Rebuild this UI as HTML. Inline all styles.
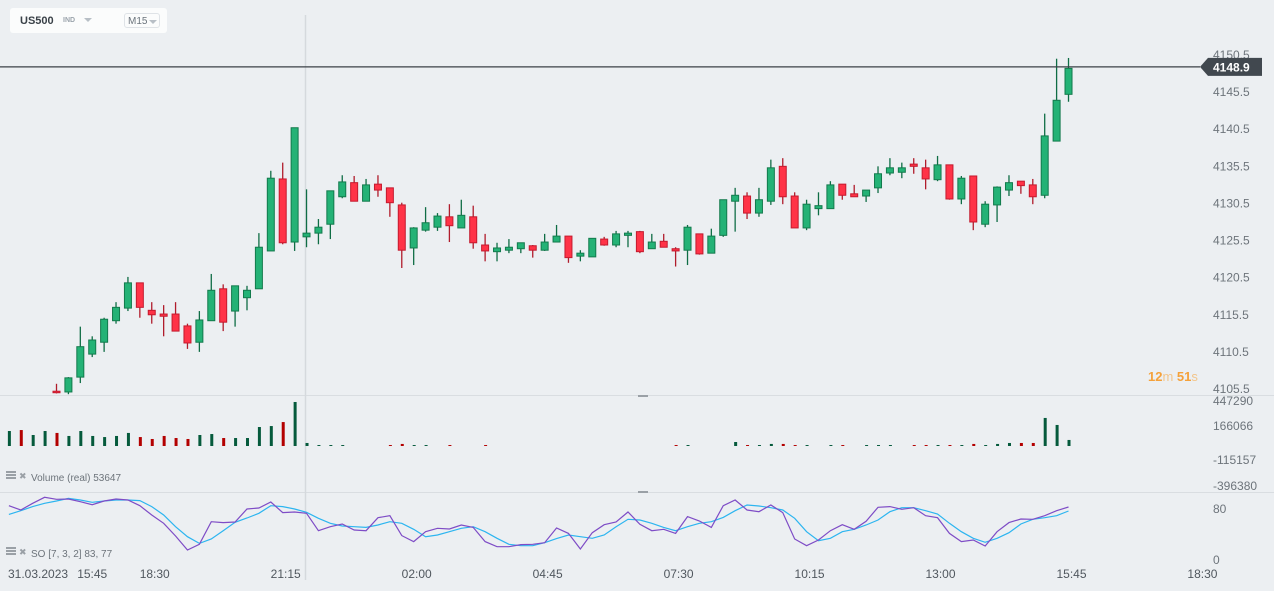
<!DOCTYPE html>
<html><head><meta charset="utf-8">
<style>
html,body{margin:0;padding:0;background:#eceff2;width:1274px;height:591px;overflow:hidden;font-family:"Liberation Sans",Arial,sans-serif;}
#hdr{position:absolute;left:10px;top:8px;width:157px;height:25px;background:#fbfcfc;border-radius:3px;}
#hdr .sym{position:absolute;left:10px;top:7px;font-size:11px;font-weight:bold;color:#3a4148;}
#hdr .ind{position:absolute;left:53px;top:9px;font-size:7px;font-weight:bold;color:#9aa3ab;}
#hdr .tri{position:absolute;left:74px;top:10px;width:0;height:0;border-left:4px solid transparent;border-right:4px solid transparent;border-top:4px solid #b8bfc6;}
#hdr .tf{position:absolute;left:114px;top:5px;width:36px;height:15px;border:1px solid #dfe3e7;border-radius:3px;font-size:10px;color:#6b747c;line-height:15px;padding-left:3px;box-sizing:border-box;white-space:nowrap;overflow:hidden;}
#hdr .tf i{position:absolute;left:24px;top:6px;width:0;height:0;border-left:4px solid transparent;border-right:4px solid transparent;border-top:4px solid #b8bfc6;}
svg{position:absolute;left:0;top:0;}
</style></head>
<body>
<div id="hdr">
  <span class="sym">US500</span>
  <span class="ind">IND</span>
  <span class="tri"></span>
  <span class="tf">M15<i></i></span>
</div>
<svg id="chart" width="1274" height="591" xmlns="http://www.w3.org/2000/svg"></svg>
<script>
// ---- data (index -4 .. 85) ----
const opens  = [4100,4102,4099,4100, 4105.2,4105.1,4107.1,4110.2,4111.8,4114.7,4116.4,4119.8,4116.1,4115.6,4115.6,4114.0,4111.8,4114.7,4119.0,4116.0,4117.8,4119.0,4124.1,4133.8,4125.3,4126.0,4126.5,4127.7,4131.4,4133.3,4130.8,4133.1,4132.6,4130.3,4124.5,4126.9,4127.3,4128.7,4127.2,4128.7,4124.9,4124.0,4124.2,4124.4,4124.8,4124.2,4125.3,4126.1,4123.4,4123.3,4125.7,4124.9,4126.2,4126.7,4124.4,4125.4,4124.4,4124.2,4126.4,4123.8,4126.2,4130.8,4131.5,4129.2,4130.8,4135.5,4131.5,4127.2,4129.8,4129.8,4133.1,4131.8,4131.5,4132.6,4134.6,4134.7,4135.8,4135.3,4133.7,4135.7,4131.1,4134.2,4127.7,4130.3,4132.3,4133.5,4133.0,4131.6,4138.9,4145.2];
const closes = [4101,4099,4100,4104, 4105.0,4107.0,4111.2,4112.1,4114.9,4116.5,4119.8,4116.5,4115.5,4115.3,4113.3,4111.7,4114.8,4118.8,4114.5,4119.4,4118.8,4124.6,4133.9,4125.2,4140.7,4126.5,4127.3,4132.2,4133.4,4130.8,4133.0,4132.3,4130.6,4124.2,4127.2,4127.9,4128.8,4127.5,4128.9,4125.2,4124.1,4124.5,4124.6,4125.2,4124.2,4125.3,4126.1,4123.2,4123.8,4125.8,4124.9,4126.4,4126.5,4124.0,4125.3,4124.6,4124.1,4127.3,4123.7,4126.1,4131.0,4131.6,4129.2,4131.0,4135.3,4131.4,4127.2,4130.4,4130.2,4133.0,4131.6,4131.4,4132.3,4134.5,4135.3,4135.3,4135.5,4133.8,4135.7,4131.1,4133.9,4128.0,4130.4,4132.7,4133.3,4132.9,4131.4,4139.6,4144.4,4148.7];
const highs  = [4101.5,4102.5,4100.5,4104.5, 4106.2,4107.1,4113.9,4112.6,4115.1,4117.2,4120.6,4119.8,4117.2,4116.8,4117.2,4114.3,4116.0,4121.0,4119.6,4119.4,4119.4,4126.5,4134.9,4136.0,4140.7,4132.4,4128.4,4132.2,4134.3,4134.2,4133.8,4134.3,4132.6,4130.6,4127.3,4130.0,4129.2,4130.4,4131.0,4130.2,4126.4,4125.2,4125.7,4125.2,4124.9,4126.4,4127.6,4126.1,4124.2,4125.8,4126.0,4126.8,4126.8,4126.8,4126.4,4126.4,4124.6,4127.6,4126.4,4127.1,4131.0,4132.6,4132.0,4132.6,4136.4,4136.6,4132.0,4131.0,4132.0,4133.5,4133.1,4133.0,4132.3,4135.5,4136.6,4136.0,4136.6,4136.4,4136.9,4135.7,4134.2,4134.2,4130.8,4132.8,4134.3,4133.5,4133.8,4142.6,4150.0,4150.1];
const lows   = [4099.5,4098.5,4098.5,4099.5, 4104.9,4104.8,4106.3,4109.8,4110.5,4114.3,4116.0,4115.1,4114.3,4112.6,4113.3,4110.9,4110.5,4114.7,4113.3,4113.9,4116.1,4119.0,4124.1,4125.0,4124.1,4124.6,4125.0,4125.7,4131.2,4130.8,4130.8,4131.4,4128.7,4121.8,4122.2,4126.7,4126.8,4125.3,4127.2,4124.4,4122.7,4122.7,4123.8,4123.8,4123.2,4124.1,4125.3,4122.5,4122.7,4123.3,4124.8,4124.6,4124.6,4123.8,4124.4,4124.6,4122.0,4122.2,4123.6,4123.8,4126.0,4126.7,4128.4,4128.7,4130.3,4130.4,4127.2,4126.9,4128.9,4129.8,4131.0,4131.4,4130.7,4131.9,4134.3,4133.9,4134.5,4132.4,4133.5,4131.0,4130.4,4126.9,4127.3,4128.0,4131.5,4131.8,4130.4,4131.2,4138.9,4144.2];
const volumes = [124000,132000,91000,124000, 108000,83000,124000,83000,74000,83000,108000,74000,58000,83000,66000,58000,91000,99000,66000,66000,66000,157000,165000,198000,364000,25000,8000,8000,8000,0,0,0,8000,17000,8000,8000,0,8000,0,0,8000,0,0,0,0,0,0,0,0,0,0,0,0,0,0,0,8000,8000,0,0,0,33000,8000,8000,17000,17000,8000,8000,0,8000,8000,0,8000,8000,8000,0,8000,8000,8000,8000,8000,17000,8000,17000,25000,25000,25000,232000,174000,50000];
const soK = [85.2,78.4,88.9,98.3, 95.2,95.7,91.5,86.8,92.6,95.7,94.1,85.2,70.6,57.5,37.6,15.7,24.6,60.1,58.6,59.6,80,81.6,91,74.3,75.3,73.2,46,52.3,56.5,47.1,46,66.4,69.5,38.2,28.8,44.4,49.7,48.6,54.9,51.2,28.8,20.9,20.9,24.1,24.6,27.2,50.2,41.8,17.3,42.9,55.4,59.6,75.3,56,46,48.1,41.8,68,61.2,51.2,85.2,94.1,78.4,75.8,86.3,74.3,32.9,22.5,31.4,46,55.4,48.1,60.7,82.6,83.7,79.5,82.1,69.5,66.4,41.8,28.8,31.4,22,44.4,58.6,64.3,63.8,69.5,77.4,83.1];
const soD = [71.6,77.4,83.7,88.9, 92.6,96.7,94.1,90.5,92.6,94.1,94.1,93.1,83.7,70.6,52.3,36.6,26.1,32.9,46,59.1,65.9,73.2,85.2,83.7,80,74.8,65.4,57.5,53.3,52.3,51.2,54.9,60.1,57.5,48.1,36.6,39.2,44.4,49.7,52.3,44.4,34,24.6,22.5,22.5,27.2,33.5,39.2,36.6,34,39.2,52.3,63.8,62.7,57.5,51.2,46,52.3,57.5,60.1,66.9,77.4,86.3,84.7,82.1,78.4,65.4,44.4,30.3,34,44.4,48.1,54.9,62.7,75.8,82.1,82.1,77.4,72.2,57.5,44.4,34,27.7,34,42.9,56.5,63.8,66.4,69.5,76.9];
const priceTicks = [4150.5,4145.5,4140.5,4135.5,4130.5,4125.5,4120.5,4115.5,4110.5,4105.5];
const volTicks = [447290,166066,-115157,-396380];
const soTicks = [80,0];
const timeLabels = ["15:45","18:30","21:15","02:00","04:45","07:30","10:15","13:00","15:45","18:30"];
const timeIdx = [3,8.25,19.25,30.25,41.25,52.25,63.25,74.25,85.25,96.25];
const lastPrice = 4148.9;

const NS="http://www.w3.org/2000/svg";
const svg=document.getElementById('chart');
function el(tag,attrs,parent){const e=document.createElementNS(NS,tag);for(const k in attrs)e.setAttribute(k,attrs[k]);(parent||svg).appendChild(e);return e;}
function txt(s,attrs,parent){const e=el('text',attrs,parent);e.textContent=s;return e;}
const OFF=4;
const xOf=i=>56.5+(i-OFF)*11.906;
const yP=p=>55+(4150.5-p)*7.422;
const yV=v=>446-v/8271;
const yS=v=>560-v*0.6375;

const defs=el('defs',{});
const cp=el('clipPath',{id:'pc'},defs); el('rect',{x:0,y:0,width:1200,height:395},cp);

let s;
s=el('line',{x1:0,y1:395.5,x2:1274,y2:395.5,stroke:'#d9dde1','stroke-width':1});

s=el('line',{x1:0,y1:492.5,x2:1274,y2:492.5,stroke:'#d9dde1','stroke-width':1});

el('rect',{x:638,y:395,width:10,height:2,fill:'#9aa0a6'});
el('rect',{x:638,y:491,width:10,height:2,fill:'#9aa0a6'});
s=el('line',{x1:305.5,y1:15,x2:305.5,y2:580,stroke:'#d5d9dd','stroke-width':1.5});


const pa=el('g',{});
priceTicks.forEach(p=>{const t=txt(p.toFixed(1),{x:1213,y:yP(p)+4,'font-size':12,fill:'#6d747b'},pa);});

const cg=el('g',{'clip-path':'url(#pc)'});
for(let i=0;i<opens.length;i++){
  const up=closes[i]>=opens[i];const x=xOf(i);
  const g=el('g',{},cg);
  
  
  el('line',{x1:x,y1:yP(highs[i]),x2:x,y2:yP(lows[i]),stroke:up?'#0f6d45':'#b01c2c','stroke-width':1.3},g);
  const t=yP(Math.max(opens[i],closes[i])),b=yP(Math.min(opens[i],closes[i]));
  el('rect',{x:x-3.5,y:t,width:7,height:Math.max(b-t,1.5),fill:up?'#24b276':'#ff3347',stroke:up?'#127a4c':'#c41a2e','stroke-width':1},g);
}

s=el('line',{x1:0,y1:yP(lastPrice),x2:1200,y2:yP(lastPrice),stroke:'#3b4147','stroke-width':1.2});

const lp=el('g',{});
const ly=yP(lastPrice);
el('path',{d:`M1200 ${ly} L1208 ${ly-9} L1262 ${ly-9} L1262 ${ly+9} L1208 ${ly+9} Z`,fill:'#41484f'},lp);
txt(lastPrice.toFixed(1),{x:1213,y:ly+4.5,'font-size':12,'font-weight':'bold',fill:'#ffffff'},lp);

const cd=txt('',{x:1148,y:381,'font-size':13,'font-weight':'bold'});

cd.innerHTML='<tspan fill="#f5a13a">12</tspan><tspan fill="#f3c58a" font-weight="normal">m </tspan><tspan fill="#f5a13a">51</tspan><tspan fill="#f3c58a" font-weight="normal">s</tspan>';

const vg=el('g',{});
for(let i=0;i<volumes.length;i++){
  if(volumes[i]<=0)continue;
  const up=closes[i]>=opens[i];const x=xOf(i)+0.5;
  const b=el('rect',{x:x-1.5,y:yV(volumes[i]),width:3,height:446-yV(volumes[i]),fill:up?'#055a3c':'#b30000'},vg);
  
  
}
const va=el('g',{});
const vY=[401,426,460,486];
volTicks.forEach((v,k)=>{const t=txt(String(v),{x:1213,y:vY[k]+4,'font-size':12,fill:'#6d747b'},va);});

function legend(y,label,name){
  const g=el('g',{});
  el('rect',{x:6,y:y-7,width:10,height:2,fill:'#9aa0a6'},g);el('rect',{x:6,y:y-4,width:10,height:2,fill:'#9aa0a6'},g);el('rect',{x:6,y:y-1,width:10,height:2,fill:'#9aa0a6'},g);
  txt('✖',{x:19,y:y+1,'font-size':9,fill:'#9aa0a6'},g);
  txt(label,{x:31,y:y+3,'font-size':10,fill:'#6d747b'},g);
}
legend(478,'Volume  (real)  53647','volume-legend');
legend(554,'SO [7, 3, 2] 83, 77','so-legend');

const sa=el('g',{});
soTicks.forEach(v=>{const t=txt(String(v),{x:1213,y:yS(v)+4,'font-size':12,fill:'#6d747b'},sa);});
function poly(arr,color,name){
  const pts=arr.map((v,i)=>xOf(i)+','+yS(v).toFixed(1)).join(' ');
  const p=el('polyline',{points:pts,fill:'none',stroke:color,'stroke-width':1.2});
  
  
}
poly(soD,'#2cb5f0','so-d-line');
poly(soK,'#7e4cc6','so-k-line');

const ta=el('g',{});
let t0=txt('31.03.2023',{x:8,y:578,'font-size':12,fill:'#50575e'},ta);

timeLabels.forEach((l,k)=>{const t=txt(l,{x:xOf(timeIdx[k]+OFF),y:578,'font-size':12,fill:'#50575e','text-anchor':'middle'},ta);});
</script>
</body></html>
